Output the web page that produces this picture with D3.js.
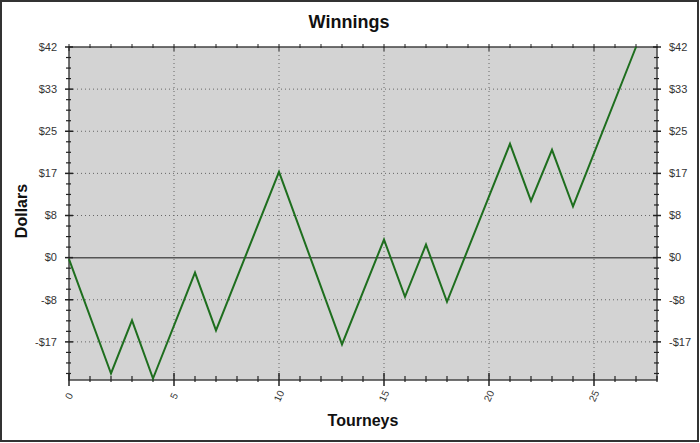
<!DOCTYPE html>
<html>
<head>
<meta charset="utf-8">
<script src="https://cdn.jsdelivr.net/npm/d3@7"></script>
<style>
  body { margin: 0; background: #fff; }
  text { font-family: Arial, "Liberation Sans", sans-serif; }
</style>
</head>
<body>
<div id="chart"></div>
<script>
// Data (turning points of the winnings line)
const tourneys = [0, 2, 3, 4, 6, 7, 10, 13, 15, 16, 17, 18, 21, 22, 23, 24, 27];
const winnings = [-0.3, -23.1, -12.5, -24.1, -3.0, -14.5, 17.1, -17.3, 3.6, -7.8, 2.6, -8.8, 22.7, 11.3, 21.5, 10.2, 42];

const xTicks = [0, 5, 10, 15, 20, 25];
const yTicks = [42, 33.6, 25.2, 16.8, 8.4, 0, -8.4, -16.8];
const yTickLabels = ['$42', '$33', '$25', '$17', '$8', '$0', '-$8', '-$17'];

const width = 700;
const height = 443;
const margin = { top: 47, right: 43, bottom: 63, left: 69 };

const x = d3.scaleLinear()
  .domain([0, 28])
  .range([margin.left, width - margin.right]);

const y = d3.scaleLinear()
  .domain([-24.4, 42])
  .range([height - margin.bottom, margin.top]);

const svg = d3.select('#chart')
  .append('svg')
  .attr('width', width)
  .attr('height', height);

// outer frame
svg.append('rect')
  .attr('x', 1).attr('y', 1)
  .attr('width', width - 3).attr('height', height - 3)
  .attr('fill', '#fff')
  .attr('stroke', '#333')
  .attr('stroke-width', 2);

const x0 = x.range()[0], x1 = x.range()[1];
const y0 = y.range()[1], y1 = y.range()[0];

// plot background
svg.append('rect')
  .attr('x', x0).attr('y', y0)
  .attr('width', x1 - x0).attr('height', y1 - y0)
  .attr('fill', '#d3d3d3');

// dotted grid
svg.append('g').selectAll('line')
  .data(xTicks.filter(d => d > 0))
  .enter().append('line')
  .attr('x1', d => x(d)).attr('x2', d => x(d))
  .attr('y1', y0).attr('y2', y1)
  .attr('stroke', '#666')
  .attr('stroke-dasharray', '1,3');

svg.append('g').selectAll('line')
  .data(yTicks.filter(d => d !== 0 && d !== 42))
  .enter().append('line')
  .attr('x1', x0).attr('x2', x1)
  .attr('y1', d => y(d)).attr('y2', d => y(d))
  .attr('stroke', '#666')
  .attr('stroke-dasharray', '1,3');

// zero line
svg.append('line')
  .attr('x1', x0).attr('x2', x1)
  .attr('y1', y(0)).attr('y2', y(0))
  .attr('stroke', '#555')
  .attr('stroke-width', 1.5);

// plot border
svg.append('rect')
  .attr('x', x0).attr('y', y0)
  .attr('width', x1 - x0).attr('height', y1 - y0)
  .attr('fill', 'none')
  .attr('stroke', '#444')
  .attr('stroke-width', 1.5);

// x ticks (minor at every tourney, major every 5)
const xMinor = d3.range(0, 29);
const axisG = svg.append('g').attr('stroke', '#222');
xMinor.forEach(d => {
  const major = d % 5 === 0;
  axisG.append('line')
    .attr('x1', x(d)).attr('x2', x(d))
    .attr('y1', y1 - (major ? 7 : 4)).attr('y2', y1 + (major ? 6 : 2))
    .attr('stroke-width', major ? 1.5 : 1.2);
  axisG.append('line')
    .attr('x1', x(d)).attr('x2', x(d))
    .attr('y1', y0 - 3).attr('y2', y0 + (major ? 4 : 1))
    .attr('stroke-width', 1);
});

// y ticks (minor every 2.1)
const yMinor = d3.range(-11, 21).map(k => k * 2.1);
yMinor.forEach(d => {
  const major = Math.abs(Math.round(d / 8.4) * 8.4 - d) < 1e-6;
  [x0, x1].forEach(px => {
    axisG.append('line')
      .attr('x1', px - (major ? 4 : 3)).attr('x2', px + (major ? 4 : 2))
      .attr('y1', y(d)).attr('y2', y(d))
      .attr('stroke-width', major ? 1.5 : 1.2);
  });
});

// y tick labels
svg.append('g').selectAll('text')
  .data(yTicks)
  .enter().append('text')
  .attr('x', x0 - 12)
  .attr('y', d => y(d))
  .attr('dy', '0.35em')
  .attr('text-anchor', 'end')
  .attr('font-size', 11)
  .attr('fill', '#333')
  .text((d, i) => yTickLabels[i]);

svg.append('g').selectAll('text')
  .data(yTicks)
  .enter().append('text')
  .attr('x', x1 + 12)
  .attr('y', d => y(d))
  .attr('dy', '0.35em')
  .attr('text-anchor', 'start')
  .attr('font-size', 11)
  .attr('fill', '#333')
  .text((d, i) => yTickLabels[i]);

// x tick labels, rotated
svg.append('g').selectAll('text')
  .data(xTicks)
  .enter().append('text')
  .attr('transform', d => `translate(${x(d)},${y1 + 16}) rotate(-65)`)
  .attr('dy', '0.35em')
  .attr('text-anchor', 'middle')
  .attr('font-size', 10)
  .attr('fill', '#333')
  .text(d => d);

// winnings line
const pts = tourneys.map((t, i) => [t, winnings[i]]);
svg.append('path')
  .datum(pts)
  .attr('fill', 'none')
  .attr('stroke', '#1e6e1e')
  .attr('stroke-width', 2)
  .attr('stroke-linejoin', 'miter')
  .attr('d', d3.line().x(d => x(d[0])).y(d => y(d[1])));

// titles
svg.append('text')
  .attr('x', 349).attr('y', 28)
  .attr('text-anchor', 'middle')
  .attr('font-size', 18)
  .attr('font-weight', 'bold')
  .attr('fill', '#111')
  .text('Winnings');

svg.append('text')
  .attr('x', 363).attr('y', 426)
  .attr('text-anchor', 'middle')
  .attr('font-size', 16)
  .attr('font-weight', 'bold')
  .attr('fill', '#111')
  .text('Tourneys');

svg.append('text')
  .attr('transform', 'translate(27,211) rotate(-90)')
  .attr('text-anchor', 'middle')
  .attr('font-size', 16)
  .attr('font-weight', 'bold')
  .attr('fill', '#111')
  .text('Dollars');
</script>
</body>
</html>
